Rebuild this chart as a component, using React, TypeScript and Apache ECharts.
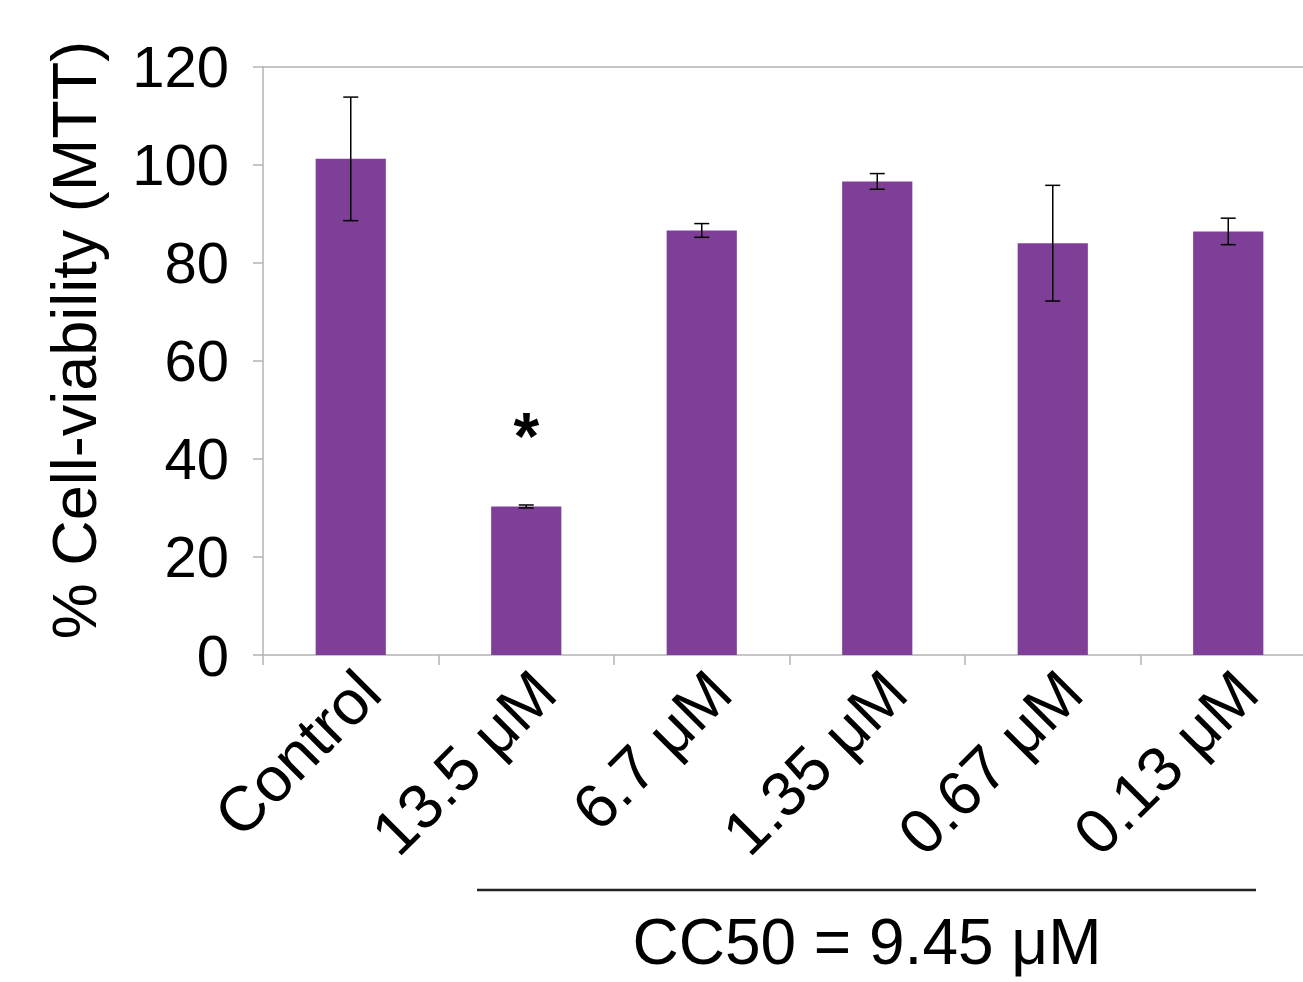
import React, { useEffect, useRef } from "react";
import * as echarts from "echarts";

const categories = ["Control", "13.5 μM", "6.7 μM", "1.35 μM", "0.67 μM", "0.13 μM"];
const viability = [101.2, 30.3, 86.6, 96.6, 84.0, 86.4];
const errors = [12.6, 0.3, 1.4, 1.6, 11.8, 2.7];
const significance = ["", "*", "", "", "", ""];
const yTicks = [0, 20, 40, 60, 80, 100, 120];
const yTitle = "% Cell-viability (MTT)";
const footnote = "CC50 = 9.45 μM";

const FONT = "'Liberation Sans', Arial, Helvetica, sans-serif";
const BAR = "#7f3f98";
const AXIS = "#b3b3b3";

export default function App() {
  const ref = useRef<HTMLDivElement>(null);
  useEffect(() => {
    if (!ref.current) return;
    const chart = echarts.init(ref.current, undefined, { renderer: "svg" });
    const splitColors = yTicks.map((t, i) => (i === yTicks.length - 1 ? AXIS : "transparent"));
    chart.setOption({
      animation: false,
      backgroundColor: "#ffffff",
      grid: { left: 263, right: 14, top: 66.7, bottom: 327, containLabel: false },
      xAxis: {
        type: "category",
        data: categories,
        axisLine: { show: true, lineStyle: { color: AXIS, width: 1.5 } },
        axisTick: { show: true, length: 10, lineStyle: { color: AXIS, width: 1.5 } },
        axisLabel: {
          interval: 0,
          rotate: 45,
          margin: 8,
          verticalAlign: "top",
          lineHeight: 52,
          color: "#000",
          fontSize: 63,
          fontFamily: FONT,
        },
      },
      yAxis: {
        type: "value",
        min: 0,
        max: 120,
        interval: 20,
        axisLine: { show: true, lineStyle: { color: AXIS, width: 1.5 } },
        axisTick: { show: true, length: 10, lineStyle: { color: AXIS, width: 1.5 } },
        splitLine: { show: true, lineStyle: { color: splitColors, width: 1.5 } },
        axisLabel: {
          margin: 34,
          color: "#000",
          fontSize: 58,
          fontFamily: FONT,
          padding: [0, 0, 18, 0],
        },
      },
      series: [
        {
          type: "bar",
          barWidth: "40%",
          itemStyle: { color: BAR },
          data: viability.map((v, i) =>
            significance[i]
              ? {
                  value: v,
                  label: {
                    show: true,
                    position: "top",
                    distance: 37,
                    formatter: significance[i],
                    fontSize: 66,
                    fontWeight: "bold",
                    color: "#000",
                    fontFamily: FONT,
                  },
                }
              : v
          ),
        },
        {
          type: "custom",
          data: viability.map((v, i) => [i, v - errors[i], v + errors[i]]),
          z: 10,
          renderItem: (params: any, api: any) => {
            const idx = api.value(0);
            const lo = api.coord([idx, api.value(1)]);
            const hi = api.coord([idx, api.value(2)]);
            const hw = 7.5;
            const style = { stroke: "#000", lineWidth: 1.5 };
            return {
              type: "group",
              children: [
                { type: "line", shape: { x1: hi[0], y1: hi[1], x2: lo[0], y2: lo[1] }, style },
                { type: "line", shape: { x1: hi[0] - hw, y1: hi[1], x2: hi[0] + hw, y2: hi[1] }, style },
                { type: "line", shape: { x1: lo[0] - hw, y1: lo[1], x2: lo[0] + hw, y2: lo[1] }, style },
              ],
            };
          },
        },
      ],
      graphic: [
        {
          type: "text",
          x: 74,
          y: 340,
          rotation: Math.PI / 2,
          style: {
            text: yTitle,
            fontSize: 63,
            fontFamily: FONT,
            fill: "#000",
            align: "center",
            verticalAlign: "middle",
          },
        },
        {
          type: "line",
          shape: { x1: 477, y1: 890, x2: 1256, y2: 890 },
          style: { stroke: "#222", lineWidth: 2.5 },
        },
        {
          type: "text",
          x: 867,
          y: 942,
          style: {
            text: footnote,
            fontSize: 64,
            fontFamily: FONT,
            fill: "#000",
            align: "center",
            verticalAlign: "middle",
          },
        },
      ],
    });
    return () => chart.dispose();
  }, []);
  return (
    <div style={{ position: "absolute", left: 0, top: 0, width: 1303, height: 982, overflow: "hidden", background: "#fff" }}>
      <div ref={ref} style={{ width: 1330, height: 982 }} />
    </div>
  );
}
